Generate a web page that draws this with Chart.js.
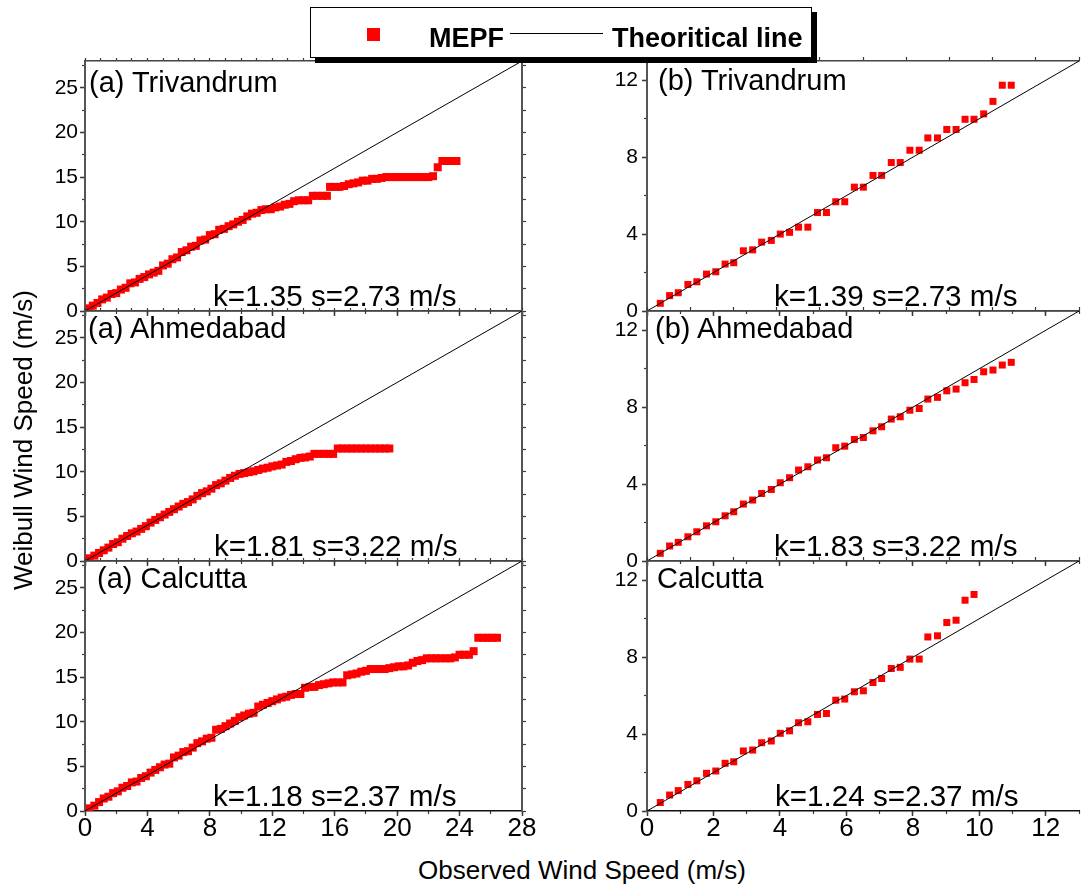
<!DOCTYPE html>
<html><head><meta charset="utf-8">
<script src="https://cdn.jsdelivr.net/npm/chart.js@4.4.1/dist/chart.umd.min.js"></script>
<style>
html,body{margin:0;padding:0;background:#fff;}
body{width:1082px;height:888px;position:relative;overflow:hidden;font-family:"Liberation Sans",Arial,sans-serif;color:#000;}
canvas{position:absolute;}
.t{position:absolute;font-size:29px;line-height:29px;white-space:nowrap;z-index:3;}
.t.p{font-size:29.6px;line-height:29px;}
#legend{position:absolute;left:310px;top:7px;width:500px;height:49px;border:1px solid #000;box-shadow:5px 5px 0 #000;background:#fff;z-index:5;}
#legend .sq{position:absolute;left:56px;top:20px;width:13px;height:13px;background:#ff0000;}
#legend .ln{position:absolute;left:199px;top:25px;width:93px;height:1px;background:#000;}
#legend .lb{position:absolute;top:17px;font-weight:bold;font-size:27px;line-height:27px;white-space:nowrap;}
.axt{position:absolute;font-size:26px;line-height:26px;white-space:nowrap;text-align:center;z-index:3;}
</style></head>
<body>
<canvas id="c0"></canvas><canvas id="c1"></canvas><canvas id="c2"></canvas>
<canvas id="c3"></canvas><canvas id="c4"></canvas><canvas id="c5"></canvas>
<div id="legend"><div class="sq"></div><div class="lb" style="left:118px">MEPF</div><div class="ln"></div><div class="lb" style="left:301px">Theoritical line</div></div>
<div class="axt" style="left:282px;top:857px;width:600px;">Observed Wind Speed (m/s)</div>
<div class="axt" style="left:-177px;top:427px;width:400px;height:26px;transform:rotate(-90deg);">Weibull Wind Speed (m/s)</div>
<script>
// ---------- DATA ----------
const obsA_TV = [0.3,0.5,0.8,1.1,1.4,1.7,2.0,2.3,2.6,2.9,3.2,3.5,3.8,4.1,4.4,4.7,5.0,5.3,5.6,5.9,6.2,6.5,6.8,7.1,7.4,7.7,8.0,8.3,8.6,8.9,9.2,9.5,9.8,10.1,10.4,10.7,11.0,11.3,11.6,11.9,12.2,12.5,12.8,13.1,13.4,13.7,14.0,14.3,14.6,14.9,15.2,15.5,15.7,16.0,16.3,16.6,16.9,17.2,17.5,17.8,18.1,18.4,18.7,19.0,19.3,19.6,19.9,20.2,20.5,20.8,21.1,21.4,21.7,22.0,22.3,22.6,22.9,23.2,23.5,23.8];
const wbA_TV  = [0.3,0.6,0.9,1.3,1.5,1.9,2.0,2.4,2.6,3.1,3.2,3.6,3.8,4.1,4.3,4.5,5.1,5.3,5.8,6.0,6.6,6.8,7.2,7.3,7.9,8.0,8.5,8.6,9.1,9.2,9.5,9.7,10.0,10.2,10.6,10.9,11.0,11.3,11.4,11.4,11.6,11.7,11.9,12.0,12.3,12.4,12.4,12.4,12.9,12.9,12.9,12.9,13.9,13.9,13.9,14.0,14.2,14.3,14.4,14.6,14.6,14.8,14.8,14.9,15.0,15.0,15.0,15.0,15.0,15.0,15.0,15.0,15.0,15.0,15.1,16.1,16.8,16.8,16.8,16.8];

const obsA_AH = [0.3,0.6,0.9,1.2,1.5,1.8,2.1,2.4,2.7,3.0,3.3,3.6,3.9,4.2,4.5,4.8,5.1,5.4,5.7,6.0,6.3,6.6,6.9,7.2,7.5,7.8,8.1,8.4,8.7,9.0,9.3,9.6,9.9,10.2,10.5,10.8,11.1,11.4,11.7,12.0,12.3,12.6,12.9,13.2,13.5,13.8,14.1,14.4,14.7,15.0,15.3,15.6,15.9,16.2,16.5,16.8,17.1,17.4,17.7,18.0,18.3,18.6,18.9,19.2,19.5];
const wbA_AH  = [0.3,0.6,0.9,1.2,1.5,1.9,2.1,2.5,2.8,3.1,3.3,3.6,3.9,4.3,4.6,4.9,5.2,5.5,5.8,6.1,6.4,6.6,6.9,7.3,7.6,7.8,8.1,8.5,8.7,9.0,9.3,9.55,9.75,9.85,9.95,10.05,10.2,10.35,10.45,10.6,10.7,10.8,11.1,11.2,11.4,11.55,11.6,11.7,12.0,12.0,12.0,12.0,12.0,12.6,12.6,12.6,12.6,12.6,12.6,12.6,12.6,12.6,12.6,12.6,12.6];

const obsA_CA = [0.3,0.6,0.9,1.2,1.5,1.8,2.1,2.4,2.7,3.0,3.3,3.6,3.9,4.2,4.5,4.8,5.1,5.4,5.7,6.0,6.3,6.6,6.9,7.2,7.5,7.8,8.1,8.4,8.7,9.0,9.3,9.6,9.9,10.2,10.5,10.8,11.1,11.4,11.7,12.0,12.3,12.6,12.9,13.2,13.5,13.8,14.1,14.4,14.7,15.0,15.3,15.6,15.9,16.2,16.5,16.8,17.1,17.4,17.7,18.0,18.3,18.6,18.9,19.2,19.5,19.8,20.1,20.4,20.7,21.0,21.3,21.6,21.9,22.2,22.5,22.8,23.1,23.4,23.7,24.0,24.3,24.6,24.9,25.2,25.5,25.8,26.1,26.4];
const wbA_CA  = [0.3,0.6,1.0,1.4,1.6,2.0,2.2,2.6,2.8,3.2,3.3,3.7,3.9,4.3,4.6,4.9,5.2,5.3,6.0,6.2,6.6,6.7,7.1,7.6,7.8,8.1,8.2,9.1,9.2,9.5,9.8,10.1,10.5,10.7,10.9,11.0,11.7,11.9,12.1,12.3,12.5,12.7,12.8,13.0,13.1,13.1,13.8,13.9,13.9,14.1,14.2,14.3,14.4,14.4,14.4,15.2,15.3,15.4,15.6,15.7,15.9,15.9,15.9,15.9,16.0,16.1,16.2,16.2,16.3,16.6,16.8,16.9,17.1,17.1,17.1,17.1,17.1,17.1,17.2,17.5,17.5,17.5,17.9,19.4,19.4,19.4,19.4,19.4];

const obsB    = [0.40,0.68,0.94,1.23,1.50,1.79,2.07,2.35,2.61,2.90,3.18,3.45,3.74,4.01,4.29,4.56,4.84,5.13,5.40,5.68,5.95,6.24,6.51,6.80,7.06,7.35,7.62,7.91,8.19,8.45,8.74,9.02,9.30,9.57,9.84,10.13,10.41,10.69,10.96];
const wbB_TV  = [0.40,0.80,0.95,1.38,1.52,1.92,2.04,2.44,2.51,3.13,3.18,3.58,3.67,4.00,4.09,4.36,4.36,5.12,5.12,5.68,5.68,6.44,6.44,7.05,7.05,7.72,7.72,8.36,8.36,9.00,9.00,9.44,9.44,9.97,9.97,10.25,10.90,11.74,11.74];
const wbB_AH  = [0.40,0.78,0.97,1.26,1.52,1.83,2.04,2.35,2.56,2.96,3.17,3.51,3.72,4.07,4.33,4.73,4.90,5.25,5.37,5.89,5.97,6.32,6.42,6.77,6.98,7.38,7.50,7.84,7.93,8.42,8.51,8.85,8.94,9.27,9.44,9.84,9.93,10.19,10.33];
const wbB_CA  = [0.44,0.83,1.06,1.38,1.57,1.96,2.08,2.48,2.56,3.12,3.17,3.55,3.64,4.04,4.17,4.59,4.64,5.02,5.07,5.76,5.82,6.20,6.25,6.68,6.89,7.41,7.47,7.90,7.90,9.05,9.11,9.80,9.92,10.96,11.26];

const xTicksA = [0,4,8,12,16,20,24,28];
const yTicksA = [0,5,10,15,20,25];
const xTicksB = [0,2,4,6,8,10,12];
const yTicksB = [0,4,8,12];

const titlesA = ['(a) Trivandrum','(a) Ahmedabad','(a) Calcutta'];
const titlesB = ['(b) Trivandrum','(b) Ahmedabad','Calcutta'];
const paramsA = ['k=1.35 s=2.73 m/s','k=1.81 s=3.22 m/s','k=1.18 s=2.37 m/s'];
const paramsB = ['k=1.39 s=2.73 m/s','k=1.83 s=3.22 m/s','k=1.24 s=2.37 m/s'];

// ---------- LAYOUT ----------
const FONT = "'Liberation Sans', Arial, sans-serif";
const ROW_TOP = [61, 311, 561];
const PLOT_H = 250, PLOT_W = 437;
const COL = [
  {left:85, yW:50, rightW:6, padR:14, xMax:28, xMinor:2, yMax:28, yMinor:2.5, xTicks:xTicksA, yTicks:yTicksA, yPad:2, topMax:28, topStep:1, topLen:3, rightStep:2.5, ptR:5.66},
  {left:647, yW:50, rightW:0, padR:0, xMax:13, xMinor:1, yMax:13, yMinor:2, xTicks:xTicksB, yTicks:yTicksB, yPad:4, topMax:10, topStep:1, topLen:4, rightStep:0, ptR:4.95}
];
const PANELS = [
  {col:0,row:0,xs:obsA_TV,ys:wbA_TV},
  {col:0,row:1,xs:obsA_AH,ys:wbA_AH},
  {col:0,row:2,xs:obsA_CA,ys:wbA_CA},
  {col:1,row:0,xs:obsB,ys:wbB_TV},
  {col:1,row:1,xs:obsB,ys:wbB_AH},
  {col:1,row:2,xs:obsB.slice(0, wbB_CA.length),ys:wbB_CA}
];
const TOP_H = 6;
const BOT_H = [6, 6, 44];
const AXIS_COL = '#3a3a3a';

function fixer(w, h) {
  return s => {
    if (w !== null) s.width = w;
    if (h !== null) s.height = h;
    s.paddingLeft = 0; s.paddingRight = 0; s.paddingTop = 0; s.paddingBottom = 0;
  };
}
function setTicks(arr) { return s => { s.ticks = arr.map(v => ({value: v})); }; }

PANELS.forEach((p, i) => {
  const c = COL[p.col];
  const cv = document.getElementById('c' + i);
  const bh = BOT_H[p.row];
  const W = c.yW + PLOT_W + c.rightW + c.padR;
  const H = TOP_H + PLOT_H + bh;
  cv.width = W; cv.height = H;
  cv.style.left = (c.left - c.yW) + 'px';
  cv.style.top = (ROW_TOP[p.row] - TOP_H) + 'px';
  const showX = p.row === 2;
  const pts = p.xs.map((x, k) => ({x: x, y: p.ys[k]}));
  const scales = {
    xm: {type:'linear', position:'bottom', weight:-1, min:0, max:c.xMax,
      ticks:{display:false, stepSize:c.xMinor, includeBounds:false},
      grid:{drawOnChartArea:false, drawTicks:true, tickLength:3, tickColor:AXIS_COL, tickWidth:1.2},
      border:{display:false}, afterFit: fixer(null, 0)},
    x: {type:'linear', position:'bottom', min:0, max:c.xMax,
      afterBuildTicks: setTicks(c.xTicks),
      ticks:{display:showX, autoSkip:false, maxRotation:0, color:'#000', padding:0,
        font:{family:FONT, size:26, lineHeight:1}},
      grid:{drawOnChartArea:false, drawTicks:true, tickLength:5, tickColor:AXIS_COL, tickWidth:1.5},
      border:{display:true, color:'#111', width:1.5}, afterFit: fixer(null, bh)},
    ym: {type:'linear', position:'left', weight:-1, min:0, max:c.yMax,
      ticks:{display:false, stepSize:c.yMinor, includeBounds:false},
      grid:{drawOnChartArea:false, drawTicks:true, tickLength:3, tickColor:AXIS_COL, tickWidth:1.2},
      border:{display:false}, afterFit: fixer(0, null)},
    y: {type:'linear', position:'left', min:0, max:c.yMax,
      afterBuildTicks: setTicks(c.yTicks),
      ticks:{display:true, autoSkip:false, color:'#000', padding:c.yPad,
        font:{family:FONT, size:21, lineHeight:1}},
      grid:{drawOnChartArea:false, drawTicks:true, tickLength:5, tickColor:AXIS_COL, tickWidth:1.5},
      border:{display:true, color:'#555', width:2}, afterFit: fixer(c.yW, null)},
    xt: {type:'linear', position:'top', min:0, max:c.topMax,
      ticks:{display:false, stepSize:c.topStep, includeBounds:false},
      grid:{drawOnChartArea:false, drawTicks:true, tickLength:c.topLen, tickColor:AXIS_COL, tickWidth:1.2},
      border:{display:true, color:'#444', width:1.5}, afterFit: fixer(null, TOP_H)}
  };
  if (c.rightW > 0) {
    scales.yr = {type:'linear', position:'right', min:0, max:c.yMax,
      ticks:{display:false, stepSize:c.rightStep, includeBounds:false},
      grid:{drawOnChartArea:false, drawTicks:true, tickLength:4, tickColor:AXIS_COL, tickWidth:1.2},
      border:{display:true, color:'#555', width:2}, afterFit: fixer(c.rightW, null)};
  }
  new Chart(cv, {
    type:'scatter',
    data:{datasets:[
      {label:'Theoritical line', data:[{x:0,y:0},{x:c.xMax,y:c.yMax}], showLine:true,
        borderColor:'#000', borderWidth:1, pointRadius:0, xAxisID:'x', yAxisID:'y'},
      {label:'MEPF', data:pts, pointStyle:'rect', pointRadius:c.ptR, pointHoverRadius:c.ptR,
        backgroundColor:'#ff0000', borderWidth:0, borderColor:'#ff0000', xAxisID:'x', yAxisID:'y'}
    ]},
    options:{
      responsive:false, animation:false, devicePixelRatio:1,
      layout:{padding:{left:0, right:c.padR, top:0, bottom:0}},
      plugins:{legend:{display:false}, tooltip:{enabled:false}, title:{display:false}},
      events:[],
      scales: scales
    }
  });
});

// ---------- PANEL TEXT ----------
const BASE_OFF = 24.5;
const textPos = [
  {list:titlesA, cls:'t', left:[89,88,97], base:[92,338,588]},
  {list:paramsA, cls:'t p', left:[213,214,213], base:[305,555,805]},
  {list:titlesB, cls:'t', left:[658,655,657], base:[90,338,588]},
  {list:paramsB, cls:'t p', left:[774,774,775], base:[305,555,805]}
];
textPos.forEach(g => {
  g.list.forEach((txt, r) => {
    const d = document.createElement('div');
    d.className = g.cls;
    d.textContent = txt;
    d.style.left = g.left[r] + 'px';
    d.style.top = (g.base[r] - BASE_OFF) + 'px';
    document.body.appendChild(d);
  });
});
</script>
</body></html>
